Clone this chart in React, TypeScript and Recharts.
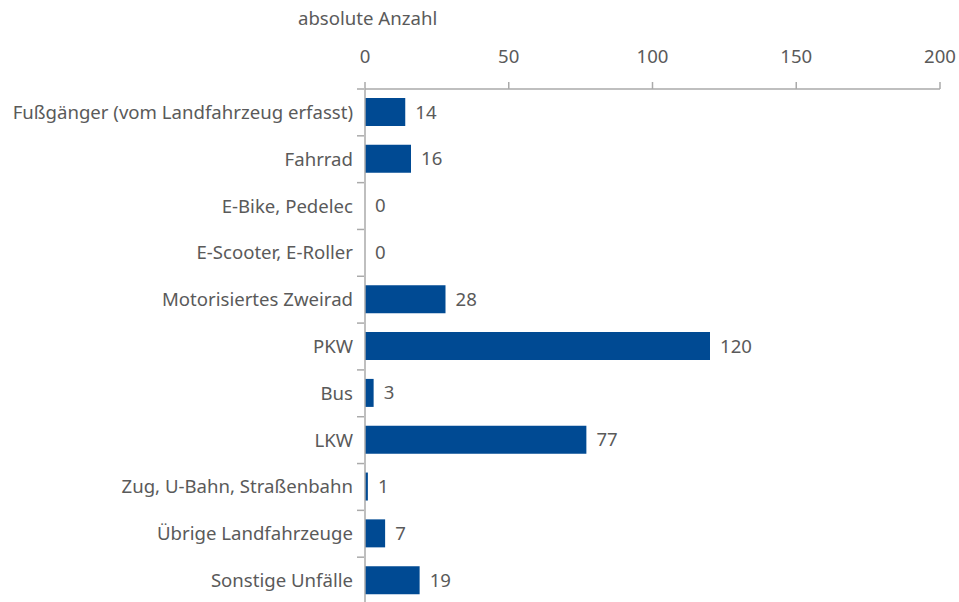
import { BarChart, Bar, XAxis, YAxis, LabelList } from 'recharts';

const categories = [
  'Fußgänger (vom Landfahrzeug erfasst)',
  'Fahrrad',
  'E-Bike, Pedelec',
  'E-Scooter, E-Roller',
  'Motorisiertes Zweirad',
  'PKW',
  'Bus',
  'LKW',
  'Zug, U-Bahn, Straßenbahn',
  'Übrige Landfahrzeuge',
  'Sonstige Unfälle',
];
const values = [14, 16, 0, 0, 28, 120, 3, 77, 1, 7, 19];
const xTicks = [0, 50, 100, 150, 200];

const data = categories.map((name, i) => ({ name, value: values[i] }));

const FONT = '"Noto Sans", sans-serif';
const FS = 18.6;
const TEXT = '#5a5a5a';
const AXIS = '#aaaaaa';
const BLUE = '#004a93';

const PLOT_TOP = 89;
const PLOT_BOTTOM = 604;
const BAND = (PLOT_BOTTOM - PLOT_TOP) / categories.length;

function CategoryTick(props: any) {
  const { x, y, payload } = props;
  const top = y - BAND / 2;
  return (
    <g>
      <line x1={x} x2={x + 7} y1={top} y2={top} stroke={AXIS} strokeWidth={1.5} />
      <text x={x - 4} y={y} dy={6.5} textAnchor="end" fill={TEXT} fontSize={FS} fontFamily={FONT}>
        {payload.value}
      </text>
    </g>
  );
}

function ValueLabel(props: any) {
  const { x, y, width, height, value } = props;
  return (
    <text
      x={Number(x) + Number(width) + 10}
      y={Number(y) + Number(height) / 2}
      dy={6.5}
      fill={TEXT}
      fontSize={FS}
      fontFamily={FONT}
    >
      {value}
    </text>
  );
}

export default function App() {
  return (
    <div style={{ position: 'absolute', left: 0, top: 0, width: 959, height: 602, overflow: 'hidden', background: '#fff' }}>
      <div
        style={{
          position: 'absolute',
          left: 298,
          top: 5,
          fontFamily: FONT,
          fontSize: FS,
          color: TEXT,
          whiteSpace: 'nowrap',
        }}
      >
        absolute Anzahl
      </div>
      <BarChart
        width={959}
        height={606}
        data={data}
        layout="vertical"
        margin={{ top: 0, right: 19, left: 0, bottom: 2 }}
        barCategoryGap="20%"
      >
        <XAxis
          type="number"
          orientation="top"
          domain={[0, 200]}
          ticks={xTicks}
          height={PLOT_TOP}
          tickSize={7}
          tickMargin={19}
          stroke={AXIS}
          strokeWidth={1.5}
          tick={{ fill: TEXT, fontSize: FS, fontFamily: FONT }}
        />
        <YAxis
          type="category"
          dataKey="name"
          width={365}
          tickLine={false}
          stroke={AXIS}
          strokeWidth={1.5}
          tick={<CategoryTick />}
          interval={0}
        />
        <Bar dataKey="value" fill={BLUE} barSize={28} minPointSize={0.01} isAnimationActive={false}>
          <LabelList dataKey="value" content={<ValueLabel />} />
        </Bar>
      </BarChart>
    </div>
  );
}
